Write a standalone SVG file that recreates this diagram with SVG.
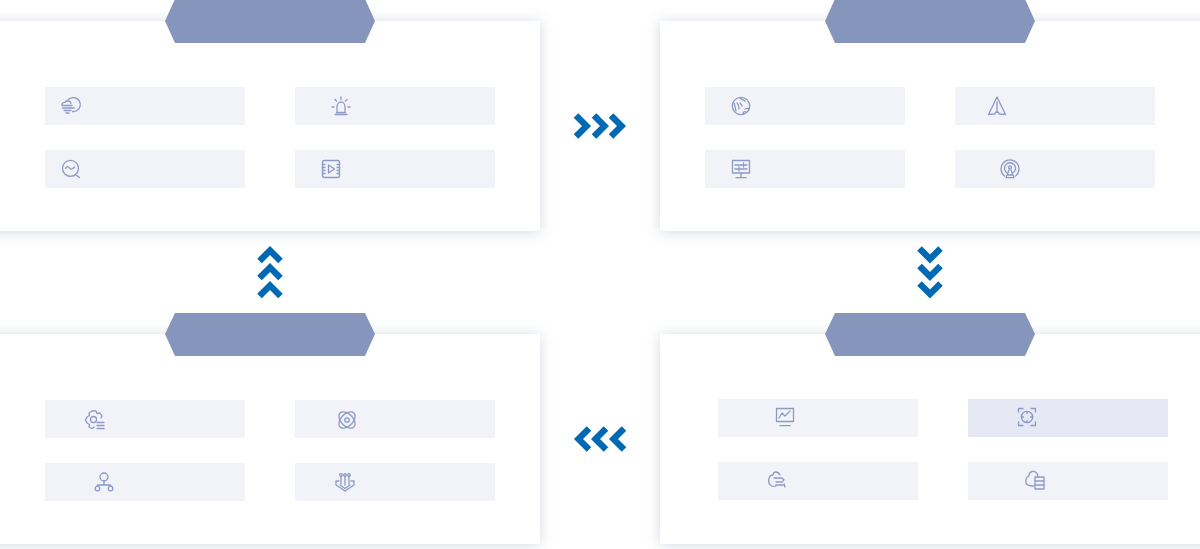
<svg xmlns="http://www.w3.org/2000/svg" width="1200" height="549" viewBox="0 0 1200 549">
<style>
.panel{fill:#fff;filter:url(#sh)}
.hex{fill:#8695bb}
.item{fill:#f2f3f8}
.item.on{fill:#e6e9f3}
.ic{fill:none;stroke:#8c9ac5;stroke-width:1.3;stroke-linecap:round;stroke-linejoin:round}
.chev{fill:none;stroke:#0069b4;stroke-width:6.400;stroke-linecap:butt;stroke-linejoin:miter}
</style>
<defs>
<filter id="sh" x="-6%" y="-20%" width="112%" height="140%"><feDropShadow dx="0" dy="1" stdDeviation="7" flood-color="#7a8ba3" flood-opacity=".33"/></filter>
<g id="ch"><path class="chev" d="M-4-10.500 6.500 0-4 10.500"/></g>
</defs>
<rect width="1200" height="549" fill="#fff"/>
<g id="panel-tl"><rect class="panel" x="-20" y="21" width="560" height="210"/><polygon class="hex" points="175,-1 365,-1 375,21 365,43 175,43 165,21"/>
<rect class="item" x="45" y="87" width="200" height="38"/><rect class="item" x="295" y="87" width="200" height="38"/><rect class="item" x="45" y="150" width="200" height="38"/><rect class="item" x="295" y="150" width="200" height="38"/>
<g class="ic" transform="translate(71 106)"><path d="M-4-4.500A7 7 0 1 1 1.500 5.500M-9-1C-9-3-7-4-6-3.500-5-6-1-6 0-2.500"/><path d="M-9-.5H1M-8.500 2H3M-7 4.500H0M-5 7H-2"/></g>
<g class="ic" transform="translate(341 106)"><path d="M-4 5.500V.5A4 4.500 0 0 1 4 .5V5.500M-4.500 6.500H4.500M-6 8.500H6M0-9V-6.500M-6-6.500-4.500-5M6-6.500 4.500-5M-9 1H-7M7 1H9"/></g>
<g class="ic" transform="translate(71 169)"><circle cx="-.5" cy="-.7" r="8"/><path d="M-5.500-.5C-4-3-3-3-1.500-1S1.500 0 3.500-2M5 6 8.500 8.500"/></g>
<g class="ic" transform="translate(331 169)"><rect x="-8.500" y="-8.500" width="17" height="17" rx="2"/><path d="M-8.500-4.500H-6M-8.500-1.500H-6M-8.500 1.500H-6M-8.500 4.500H-6M6-4.500H8.500M6-1.500H8.500M6 1.500H8.500M6 4.500H8.500M-2.500-4 3.500 0-2.500 4Z"/></g>
</g>
<g id="panel-tr"><rect class="panel" x="660" y="21" width="560" height="210"/><polygon class="hex" points="835,-1 1025,-1 1035,21 1025,43 835,43 825,21"/>
<rect class="item" x="705" y="87" width="200" height="38"/><rect class="item" x="955" y="87" width="200" height="38"/><rect class="item" x="705" y="150" width="200" height="38"/><rect class="item" x="955" y="150" width="200" height="38"/>
<g class="ic" transform="translate(741 106)"><circle r="8.700"/><path d="M-7-3C-6-1-6 2-5 5M-4-3C-3-2-2 0-2 3M-1-8C1-6 3-6 4-5M-1-3C0-2 1-1 1 0M4 3C6 2 7 2 8 3M2 8C2 6 4 5 5 6"/></g>
<g class="ic" transform="translate(997 106)"><path d="M0-9 8.500 8.500 2.500 8 0 5-2.500 8-8.500 8.500ZM0-4V5"/></g>
<g class="ic" transform="translate(741 169)"><rect x="-8.500" y="-8.500" width="17" height="12.500"/><path d="M-6-4H6M-6 0H6M2.500-6V-2M-2-2V2M0 4V8.500M-5 8.700H5"/></g>
<g class="ic" transform="translate(1010 169)"><path d="M-5.500 7A9 9 0 1 1 5.500 7M-3.500 3.500A5.500 5.500 0 1 1 3.500 3.500"/><circle cy="-1.500" r="1.500"/><path d="M-1 1-4 8.700H4L1 1M-3 6H3"/></g>
</g>
<g id="panel-bl"><rect class="panel" x="-20" y="334" width="560" height="210"/><polygon class="hex" points="175,313 365,313 375,334 365,356 175,356 165,334"/>
<rect class="item" x="45" y="400" width="200" height="38"/><rect class="item" x="295" y="400" width="200" height="38"/><rect class="item" x="45" y="463" width="200" height="38"/><rect class="item" x="295" y="463" width="200" height="38"/>
<g class="ic" transform="translate(95 420)"><path d="M-3-9H1L2-6.500 5-7 7-4 6-2M-1 7-3 8.500-6 7-5.500 4.500-8 3-9.500 0-8-3-5.500-4.500-6-7-3-9"/><circle cx="-1.500" cy="-.5" r="3"/><path d="M2 2.500H9M2 5.500H9M2 8.500H9"/></g>
<g class="ic" transform="translate(347 420)"><circle r="2.200"/><ellipse rx="9.800" ry="6" transform="rotate(45)"/><ellipse rx="9.800" ry="6" transform="rotate(-45)"/></g>
<g class="ic" transform="translate(104 482)"><circle cy="-5" r="4"/><circle cx="-6.500" cy="6.500" r="2.300"/><circle cx="6.500" cy="6.500" r="2.300"/><path d="M0-1V3M-6.500 4V3H6.500V4"/></g>
<g class="ic" transform="translate(345 482)"><path d="M-9-1V3L0 9 9 3V-1H6M-6-1H-9M-5 3 0 6.500 5 3"/><path d="M-4-6V2M0-6V3M4-6V2"/><circle cx="-4" cy="-7" r="1.300"/><circle cy="-7" r="1.300"/><circle cx="4" cy="-7" r="1.300"/></g>
</g>
<g id="panel-br"><rect class="panel" x="660" y="334" width="560" height="210"/><polygon class="hex" points="835,313 1025,313 1035,334 1025,356 835,356 825,334"/>
<rect class="item" x="718" y="399" width="200" height="38"/><rect class="item on" x="968" y="399" width="200" height="38"/><rect class="item" x="718" y="462" width="200" height="38"/><rect class="item" x="968" y="462" width="200" height="38"/>
<g class="ic" transform="translate(785 417)"><rect x="-8.500" y="-8.500" width="17" height="13"/><path d="M-6 1-3-4 0-1 5-6M-5 8.700H5"/></g>
<g class="ic" transform="translate(1027 417)"><path d="M-8.500-5V-8.500H-4M4-8.500H8.500V-5M8.500 5V8.500H4M-4 8.500H-8.500V5"/><circle r="5.700"/><path d="M0-5.500V-3.500M0 3.500V5.500M-5.500 0H-3.500M3.500 0H5.500"/></g>
<g class="ic" transform="translate(777 480)"><path d="M3-5C1-9-4-9-4-5-8-5-9 0-8 3-7 6-4 7-1 6"/><path d="M-3-2H5L7 0 5 2H-1M-1 5H6M7 4 8 7"/></g>
<g class="ic" transform="translate(1035 480)"><path d="M3-3C3-7 0-9-3-8.500-5-8-6-6-6-4-9-3-9.500 0-9 3-8.500 5-6 6-1 6"/><rect x="0" y="-3" width="9" height="12"/><path d="M0 1H9M0 5H9"/></g>
</g>
<g id="connectors">
<g id="c-right"><use href="#ch" transform="translate(580 126)"/><use href="#ch" transform="translate(598 126)"/><use href="#ch" transform="translate(615 126)"/></g>
<g id="c-down"><use href="#ch" transform="translate(930 252.500) rotate(90)"/><use href="#ch" transform="translate(930 270) rotate(90)"/><use href="#ch" transform="translate(930 287.500) rotate(90)"/></g>
<g id="c-left"><use href="#ch" transform="translate(620 439) rotate(180)"/><use href="#ch" transform="translate(602 439) rotate(180)"/><use href="#ch" transform="translate(585 439) rotate(180)"/></g>
<g id="c-up"><use href="#ch" transform="translate(270 257) rotate(-90)"/><use href="#ch" transform="translate(270 274) rotate(-90)"/><use href="#ch" transform="translate(270 292) rotate(-90)"/></g>
</g>
</svg>
